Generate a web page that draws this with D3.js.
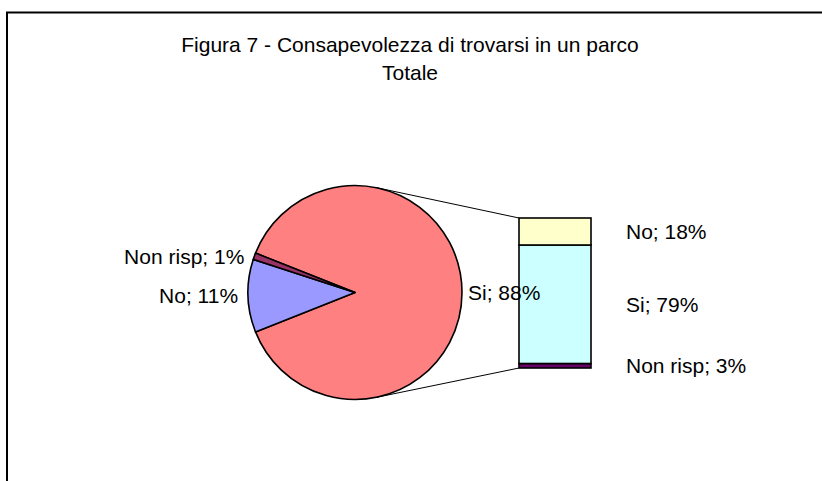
<!DOCTYPE html>
<html>
<head>
<meta charset="utf-8">
<script src="https://cdn.jsdelivr.net/npm/d3@7"></script>
<style>
  body { margin: 0; background: #fff; }
  svg { font-family: "Liberation Sans", Arial, sans-serif; }
</style>
</head>
<body>
<div id="chart"></div>
<script>
// pie: Si is the slice that is broken out into the bar
var pieLabels = ["Si", "No", "Non risp"];
var pieValues = [88, 11, 1];
var pieColors = ["#FF8080", "#9999FF", "#993366"];

// bar, stacked bottom to top
var barLabels = ["Non risp", "Si", "No"];
var barValues = [3, 79, 18];
var barColors = ["#660066", "#CCFFFF", "#FFFFCC"];

var titleLines = ["Figura 7 - Consapevolezza di trovarsi in un parco", "Totale"];

var width = 822, height = 481;
var cx = 355, cy = 292.5, r = 107;
var barX = 519, barW = 72;

var svg = d3.select("#chart").append("svg")
    .attr("width", width)
    .attr("height", height);

// chart area border (runs off the right and bottom edges)
svg.append("rect")
    .attr("x", 7).attr("y", 12.5)
    .attr("width", 840).attr("height", 500)
    .attr("fill", "none")
    .attr("stroke", "#000")
    .attr("stroke-width", 2);

svg.selectAll(".title").data(titleLines).enter().append("text")
    .attr("class", "title")
    .attr("x", 410)
    .attr("y", function(d, i) { return 52 + i * 28; })
    .attr("text-anchor", "middle")
    .style("font-size", "21px")
    .text(function(d) { return d; });

// pie
var total = d3.sum(pieValues);
var start = Math.PI / 2 - Math.PI * pieValues[0] / total;
var pie = d3.pie().sort(null).startAngle(start).endAngle(start + 2 * Math.PI);
var arcs = pie(pieValues);
var arc = d3.arc().innerRadius(0).outerRadius(r);

var g = svg.append("g").attr("transform", "translate(" + cx + "," + cy + ")");
g.selectAll("path").data(arcs).enter().append("path")
    .attr("d", arc)
    .attr("fill", function(d, i) { return pieColors[i]; })
    .attr("stroke", "#000")
    .attr("stroke-width", 1.6)
    .attr("stroke-linejoin", "round");

// bar
var y = d3.scaleLinear().domain([0, d3.sum(barValues)]).range([368, 218]);
var stack = [];
var acc = 0;
barValues.forEach(function(v, i) {
    stack.push({ label: barLabels[i], value: v, y0: acc, y1: acc + v, color: barColors[i] });
    acc += v;
});

// connector lines: tangents from bar corners to the pie
function tangent(px, py, up) {
    var dx = px - cx, dy = py - cy;
    var d = Math.sqrt(dx * dx + dy * dy);
    var base = Math.atan2(dy, dx);
    var off = Math.acos(r / d);
    var t = up ? base - off : base + off;
    return [cx + r * Math.cos(t), cy + r * Math.sin(t)];
}
var topPt = tangent(barX, y(acc), true);
var botPt = tangent(barX, y(0), false);
svg.append("line")
    .attr("x1", topPt[0]).attr("y1", topPt[1])
    .attr("x2", barX).attr("y2", y(acc))
    .attr("stroke", "#000").attr("stroke-width", 1);
svg.append("line")
    .attr("x1", botPt[0]).attr("y1", botPt[1])
    .attr("x2", barX).attr("y2", y(0))
    .attr("stroke", "#000").attr("stroke-width", 1);

svg.selectAll(".seg").data(stack).enter().append("rect")
    .attr("class", "seg")
    .attr("x", barX)
    .attr("width", barW)
    .attr("y", function(d) { return y(d.y1); })
    .attr("height", function(d) { return y(d.y0) - y(d.y1); })
    .attr("fill", function(d) { return d.color; })
    .attr("stroke", "#000")
    .attr("stroke-width", 1.6);

svg.selectAll(".blabel").data(stack).enter().append("text")
    .attr("class", "blabel")
    .attr("x", barX + barW + 35)
    .attr("y", function(d) { return (y(d.y0) + y(d.y1)) / 2; })
    .attr("dy", "0.35em")
    .style("font-size", "21px")
    .text(function(d) { return d.label + "; " + d.value + "%"; });

// pie labels last so "Si; 88%" sits over the bar
var lg = svg.append("g").attr("transform", "translate(" + cx + "," + cy + ")");
lg.selectAll(".plabel").data(arcs).enter().append("text")
    .attr("class", "plabel")
    .each(function(d, i) {
        var a = (d.startAngle + d.endAngle) / 2;
        var x = Math.sin(a) * r, yy = -Math.cos(a) * r;
        var right = x > 0;
        d3.select(this)
            .attr("x", x + (right ? 6 : -10))
            .attr("y", yy)
            .attr("dy", "0.35em")
            .attr("text-anchor", right ? "start" : "end");
    })
    .style("font-size", "21px")
    .text(function(d, i) { return pieLabels[i] + "; " + pieValues[i] + "%"; });
</script>
</body>
</html>
